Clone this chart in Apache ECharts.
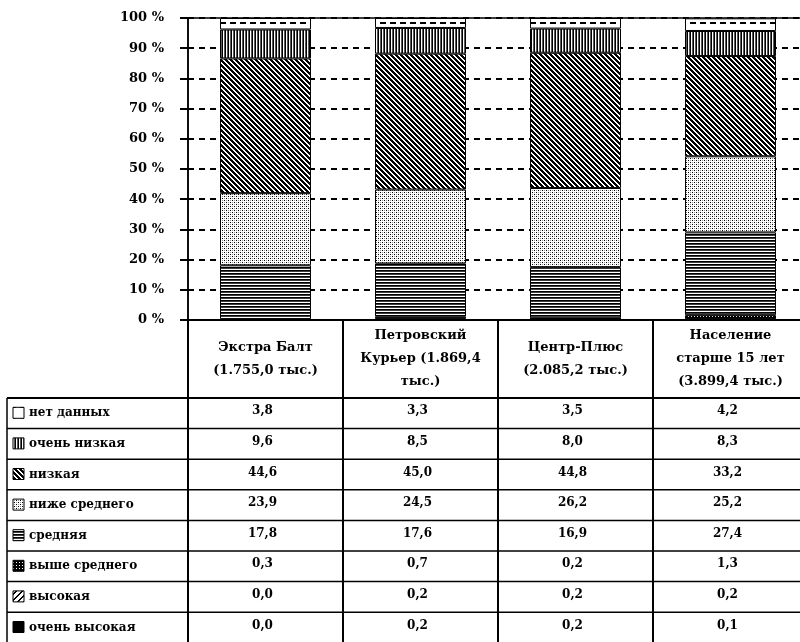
<!DOCTYPE html>
<html><head><meta charset="utf-8">
<script src="https://cdn.jsdelivr.net/npm/echarts@6/dist/echarts.min.js"></script>
<style>html,body{margin:0;padding:0;background:#fff}#c{width:800px;height:642px}</style>
</head><body><div id="c"></div>
<script>
// ---- data ----
const categories = ['Экстра Балт\n(1.755,0 тыс.)', 'Петровский\nКурьер (1.869,4\nтыс.)', 'Центр-Плюс\n(2.085,2 тыс.)', 'Население\nстарше 15 лет\n(3.899,4 тыс.)'];
const seriesNames = ['очень высокая', 'высокая', 'выше среднего', 'средняя', 'ниже среднего', 'низкая', 'очень низкая', 'нет данных'];
const veryHigh = [0.0, 0.2, 0.2, 0.1];
const high = [0.0, 0.2, 0.2, 0.2];
const aboveAvg = [0.3, 0.7, 0.2, 1.3];
const average = [17.8, 17.6, 16.9, 27.4];
const belowAvg = [23.9, 24.5, 26.2, 25.2];
const low = [44.6, 45.0, 44.8, 33.2];
const veryLow = [9.6, 8.5, 8.0, 8.3];
const noData = [3.8, 3.3, 3.5, 4.2];
const yTickSuffix = ' %';
const seriesData = [veryHigh, high, aboveAvg, average, belowAvg, low, veryLow, noData];

// ---- patterns ----
function tile(w, h, fn) {
  const c = document.createElement('canvas'); c.width = w; c.height = h;
  const ctx = c.getContext('2d'); const img = ctx.createImageData(w, h);
  for (let y = 0; y < h; y++) for (let x = 0; x < w; x++) {
    const v = fn(x, y), i = (y * w + x) * 4;
    img.data[i] = img.data[i + 1] = img.data[i + 2] = v; img.data[i + 3] = 255;
  }
  ctx.putImageData(img, 0, 0); return c;
}
const pats = [
  '#000',
  { image: tile(6, 6, (x, y) => ((x + y) % 6 < 2) ? 0 : 255), repeat: 'repeat' },
  { image: tile(3, 3, (x, y) => (x === 1 && y === 1) ? 255 : 0), repeat: 'repeat' },
  { image: tile(1, 3, (x, y) => [0, 60, 255][y]), repeat: 'repeat' },
  { image: tile(4, 4, (x, y) => ((x === 0 && y === 0) || (x === 2 && y === 2)) ? 0 : (((x === 0 && y === 2) || (x === 2 && y === 0)) ? 150 : 255)), repeat: 'repeat' },
  { image: tile(5, 5, (x, y) => (((x - y + 10) % 5) < 3) ? 0 : 255), repeat: 'repeat' },
  { image: tile(3, 1, (x) => [0, 255, 90][x]), repeat: 'repeat' },
  { image: tile(10, 12, (x, y) => (y >= 10 && x < 6) ? 0 : 255), repeat: 'repeat' }
];

const FONT = '"DejaVu Serif", serif';
const chart = echarts.init(document.getElementById('c'), null, { renderer: 'canvas' });
chart.setOption({
  animation: false,
  backgroundColor: '#fff',
  grid: { left: 188, width: 620, top: 18, bottom: 322, outerBoundsMode: 'none', containLabel: false,
    show: true, borderColor: '#000', borderWidth: 1.5, backgroundColor: 'transparent' },
  xAxis: {
    type: 'category', data: categories,
    axisLine: { lineStyle: { color: '#000', width: 2 } },
    axisTick: { show: false }, axisLabel: { show: false }, splitLine: { show: false }
  },
  yAxis: {
    type: 'value', min: 0, max: 100, interval: 10,
    axisLine: { show: true, lineStyle: { color: '#000', width: 1.5 } },
    axisTick: { show: true, length: 8, lineStyle: { color: '#000', width: 2 } },
    axisLabel: { formatter: v => v + yTickSuffix, color: '#000', fontFamily: FONT, fontWeight: 'bold', fontSize: 13, margin: 24 },
    splitLine: { show: true, lineStyle: { color: '#000', width: 1.8, type: [6, 5] } }
  },
  series: seriesNames.map((n, i) => ({
    name: n, type: 'bar', stack: 'a', barWidth: 91, data: seriesData[i],
    itemStyle: { color: pats[i], borderColor: '#000', borderWidth: 1 }
  }))
});

// ---- data table (built from the axis scale) ----
const c0 = chart.convertToPixel({ xAxisIndex: 0 }, 0);
const c1 = chart.convertToPixel({ xAxisIndex: 0 }, 1);
const band = c1 - c0;
const yBase = chart.convertToPixel({ yAxisIndex: 0 }, 0);
const headBottom = 398, rowH = 30.6, tableLeft = 7, W = 800, H = 642;
const g = [];
const line = (x1, y1, x2, y2, w) => g.push({ type: 'line', shape: { x1, y1, x2, y2 }, style: { stroke: '#000', lineWidth: w || 1.5 } });
for (let k = 0; k <= categories.length; k++) {
  const x = c0 - band / 2 + k * band;
  line(x, yBase, x, H + 2, 2);
}
line(tableLeft, headBottom, tableLeft, H + 2, 1.5);
for (let r = 0; r <= seriesNames.length; r++) {
  const y = headBottom + r * rowH;
  line(tableLeft, y, W + 10, y, r === 0 ? 2 : 1.5);
}
categories.forEach((c, i) => {
  g.push({ type: 'text', x: c0 + i * band, y: (yBase + headBottom) / 2,
    style: { text: c, font: 'bold 13px ' + FONT, fill: '#000', align: 'center', verticalAlign: 'middle', lineHeight: 23 } });
});
const rowOrder = seriesNames.map((_, i) => seriesNames.length - 1 - i);
rowOrder.forEach((si, r) => {
  const cy = headBottom + r * rowH + rowH / 2;
  g.push({ type: 'rect', shape: { x: 13, y: cy - 6, width: 11, height: 11 }, style: { fill: pats[si], stroke: '#000', lineWidth: 1 } });
  g.push({ type: 'text', x: 29, y: cy, style: { text: seriesNames[si], font: 'bold 12px ' + FONT, fill: '#000', align: 'left', verticalAlign: 'middle' } });
  seriesData[si].forEach((v, i) => {
    g.push({ type: 'text', x: c0 + i * band - 3, y: cy - 2,
      style: { text: v.toFixed(1).replace('.', ','), font: 'bold 12px ' + FONT, fill: '#000', align: 'center', verticalAlign: 'middle' } });
  });
});
chart.setOption({ graphic: g });
</script></body></html>
